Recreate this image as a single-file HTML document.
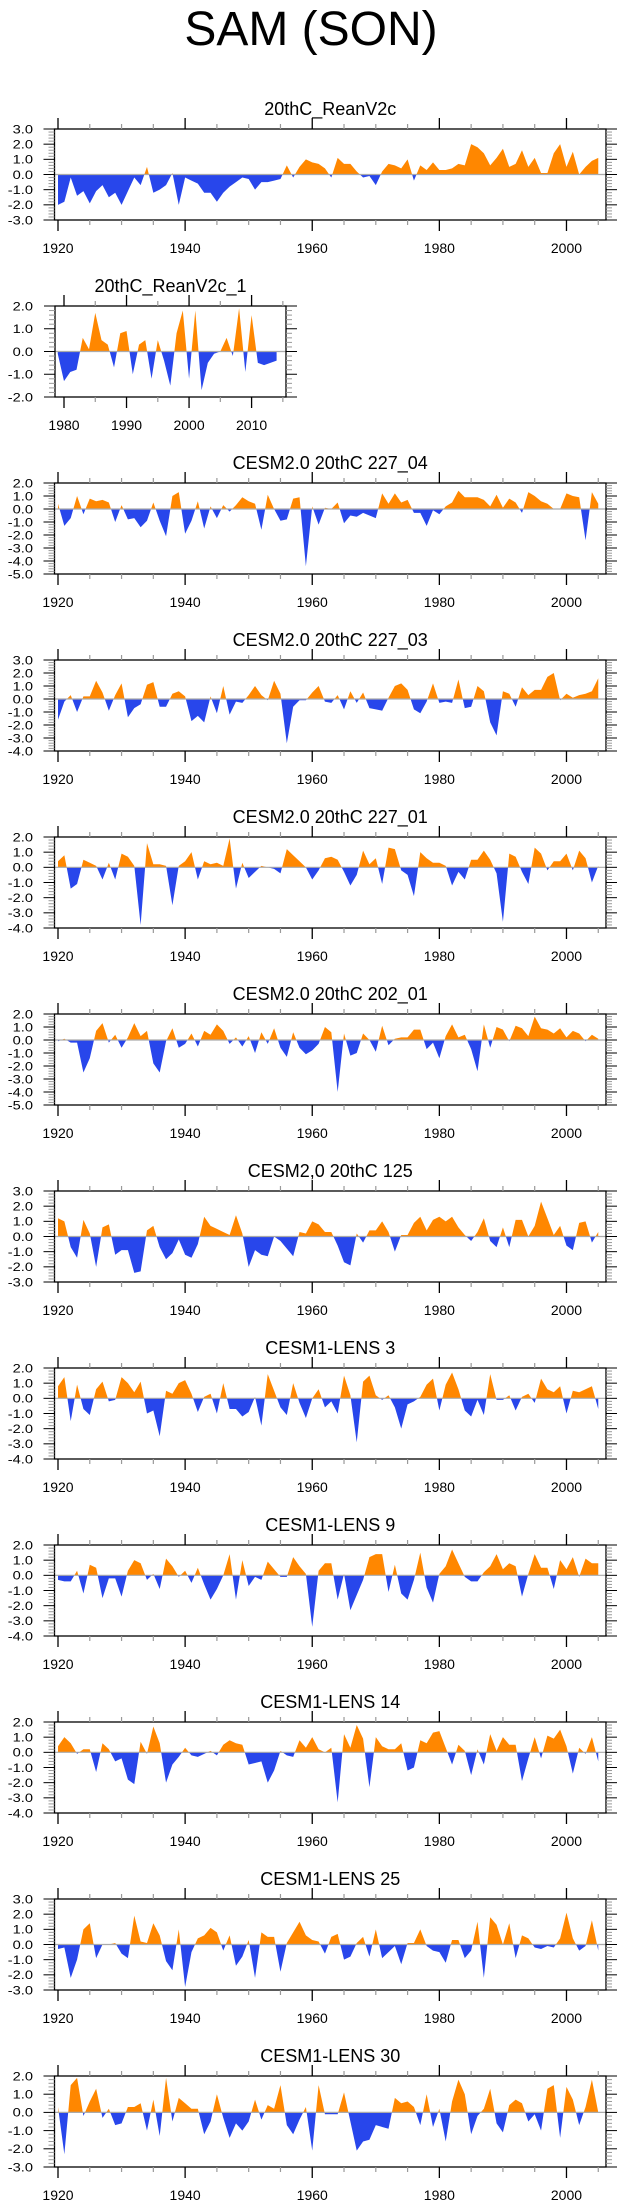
<!DOCTYPE html>
<html><head><meta charset="utf-8">
<style>
html,body{margin:0;padding:0;background:#fff;}
svg{display:block;font-family:"Liberation Sans",sans-serif;}
</style></head>
<body>
<svg id="chart" width="623" height="2209" viewBox="0 0 623 2209" xmlns="http://www.w3.org/2000/svg">
<text x="311" y="45" font-size="48" text-anchor="middle" fill="#000">SAM (SON)</text>
</svg>
<script>
const titles = ["20thC_ReanV2c","20thC_ReanV2c_1","CESM2.0 20thC 227_04","CESM2.0 20thC 227_03","CESM2.0 20thC 227_01","CESM2.0 20thC 202_01","CESM2,0 20thC 125","CESM1-LENS 3","CESM1-LENS 9","CESM1-LENS 14","CESM1-LENS 25","CESM1-LENS 30"];
const yMins = [-3,-2,-5,-4,-4,-5,-3,-4,-4,-4,-3,-3];
const yMaxs = [3,2,2,3,2,2,3,2,2,2,3,2];
const startYears = [1920,1979,1920,1920,1920,1920,1920,1920,1920,1920,1920,1920];
const xTickLabelsMain = [1920,1940,1960,1980,2000];
const xTickLabelsShort = [1980,1990,2000,2010];
const s0 = [-2.0,-1.8,-0.2,-1.4,-1.1,-1.9,-1.1,-0.7,-1.5,-1.2,-2.0,-1.1,-0.2,-0.7,0.5,-1.2,-1.0,-0.7,0.1,-2.0,-0.2,-0.4,-0.6,-1.2,-1.2,-1.8,-1.2,-0.8,-0.5,-0.2,-0.3,-1.0,-0.5,-0.5,-0.4,-0.3,0.6,-0.2,0.5,1.0,0.8,0.7,0.4,-0.2,1.1,0.7,0.7,0.2,-0.2,-0.1,-0.7,0.2,0.7,0.6,0.4,1.0,-0.4,0.6,0.3,0.8,0.3,0.3,0.4,0.7,0.6,2.0,1.8,1.4,0.6,1.1,1.7,0.5,0.7,1.6,0.5,1.1,0.1,0.1,1.4,2.0,0.5,1.5,0.0,0.5,0.9,1.1];
const s1 = [-0.1,-1.3,-0.9,-0.8,0.6,0.1,1.7,0.5,0.3,-0.7,0.8,0.9,-1.0,0.3,0.5,-1.2,0.5,-0.4,-1.5,0.8,1.8,-1.2,1.8,-1.7,-0.5,-0.1,0.0,0.6,-0.2,1.9,-0.9,1.6,-0.5,-0.6,-0.5,-0.4];
const s2 = [0.4,-1.3,-0.7,1.0,-0.4,0.8,0.6,0.7,0.5,-1.0,0.3,-0.8,-0.7,-1.4,-0.9,0.5,-0.9,-2.1,1.0,1.3,-1.9,-0.9,0.6,-1.5,0.2,-0.7,0.3,-0.2,0.3,0.9,0.6,0.4,-1.6,1.1,0.0,-0.9,-0.8,0.8,0.9,-4.4,0.2,-1.2,0.1,0.0,0.5,-1.1,-0.5,-0.6,-0.3,-0.5,-0.7,1.2,0.4,1.2,0.5,0.7,-0.3,-0.3,-1.3,-0.1,-0.4,0.2,0.5,1.4,0.9,0.9,0.9,0.7,0.2,1.1,0.1,0.8,0.5,-0.3,1.3,1.0,0.6,0.4,0.0,0.0,1.2,1.0,0.9,-2.4,1.3,0.4];
const s3 = [-1.6,-0.2,0.3,-1.0,0.2,0.2,1.4,0.5,-0.9,0.3,1.2,-1.4,-0.7,-0.4,1.1,1.3,-0.6,-0.6,0.4,0.6,0.2,-1.7,-1.3,-1.8,0.2,-1.1,1.0,-1.2,-0.2,-0.3,0.3,1.0,0.3,-0.1,1.4,0.4,-3.4,-0.6,-0.1,-0.1,0.5,1.0,-0.2,-0.3,0.3,-0.8,0.6,-0.3,0.5,-0.7,-0.8,-0.9,0.1,1.0,1.2,0.7,-0.8,-1.1,-0.2,1.2,-0.3,-0.2,-0.3,1.5,-0.7,-0.6,1.0,0.6,-1.8,-2.8,0.6,0.4,-0.6,0.9,0.3,0.7,0.7,1.7,2.0,-0.1,0.4,0.1,0.3,0.4,0.6,1.6];
const s4 = [0.4,0.8,-1.4,-1.1,0.5,0.3,0.1,-0.8,0.3,-0.8,0.9,0.7,0.1,-3.8,1.6,0.2,0.2,0.1,-2.5,0.1,0.4,1.0,-0.8,0.4,0.2,0.3,0.1,1.9,-1.4,0.3,-0.7,-0.3,0.1,0.0,-0.1,-0.4,1.2,0.8,0.4,0.0,-0.8,-0.2,0.6,0.7,0.5,-0.3,-1.2,-0.5,1.1,0.2,0.6,-1.1,1.3,1.2,-0.2,-0.5,-1.9,1.0,0.6,0.3,0.3,0.1,-1.2,-0.3,-0.8,0.5,0.5,1.1,0.5,-0.4,-3.6,0.9,0.7,-0.3,-1.1,1.3,0.9,-0.2,0.4,0.4,0.9,-0.2,1.1,0.6,-1.0,0.1];
const s5 = [-0.1,0.1,-0.2,-0.2,-2.5,-1.4,0.7,1.3,-0.2,0.4,-0.6,0.2,1.3,0.3,0.7,-1.8,-2.5,-0.1,0.9,-0.6,-0.3,0.5,-0.5,0.7,0.4,1.2,0.7,-0.3,0.2,-0.5,0.3,-1.0,0.6,-0.3,0.9,-0.6,-1.3,0.6,-0.6,-1.1,-0.8,-0.3,1.0,0.6,-4.0,0.5,-1.2,-1.0,0.5,0.0,-0.9,1.1,-0.4,0.1,0.2,0.2,0.8,0.8,-0.7,-0.2,-1.4,0.3,1.2,0.2,0.4,-0.7,-2.4,1.2,-0.6,1.0,0.8,-0.1,1.1,0.9,0.3,1.8,0.9,0.8,0.5,0.9,0.2,0.7,0.5,-0.1,0.4,0.1];
const s6 = [1.2,1.0,-0.7,-1.4,1.1,0.2,-2.0,0.6,0.8,-1.2,-0.9,-0.9,-2.4,-2.3,0.4,0.7,-0.7,-1.5,-1.1,-0.2,-1.2,-1.4,-0.5,1.3,0.7,0.5,0.3,0.1,1.4,0.2,-2.0,-0.9,-1.2,-1.3,0.0,-0.3,-0.8,-1.3,0.3,0.2,1.0,0.8,0.3,0.3,-0.6,-1.7,-1.9,0.2,-0.4,0.4,0.4,1.0,0.3,-1.0,0.1,0.1,0.9,1.3,0.4,1.1,1.3,1.0,1.3,0.6,0.1,-0.3,0.3,1.2,-0.3,-0.7,0.6,-0.7,1.1,1.1,0.0,0.7,2.3,1.2,0.1,0.7,-0.6,-0.9,0.9,1.0,-0.4,0.3];
const s7 = [0.8,1.4,-1.5,0.9,-0.7,-1.1,0.6,1.1,-0.2,-0.1,1.4,1.0,0.4,1.1,-1.0,-0.8,-2.5,0.5,0.3,1.0,1.2,0.3,-0.9,0.1,0.3,-1.0,1.0,-0.7,-0.7,-1.2,-0.9,0.1,-1.8,1.6,0.5,-0.6,-1.1,1.0,-0.3,-1.3,0.0,0.6,-0.6,-0.2,-1.0,1.5,0.2,-2.9,1.1,1.5,0.2,-0.1,0.2,-0.6,-2.0,-0.4,-0.2,0.1,0.9,1.3,-0.8,0.9,1.7,0.6,-0.8,-1.2,-0.1,-1.1,1.6,-0.1,-0.1,0.2,-0.8,0.1,0.3,-0.3,1.3,0.6,0.4,0.8,-1.0,0.5,0.4,0.6,0.8,-0.7];
const s8 = [-0.3,-0.4,-0.4,0.3,-1.2,0.7,0.5,-1.5,-0.2,-0.2,-1.4,0.3,1.0,0.8,-0.3,0.1,-0.9,1.1,0.6,-0.1,0.3,-0.5,0.5,-0.6,-1.6,-0.9,0.0,1.4,-1.6,1.0,-0.7,-0.1,-0.3,0.9,0.4,-0.1,-0.1,1.2,0.6,0.1,-3.4,0.3,0.8,0.8,-1.6,0.1,-2.3,-1.3,-0.3,1.2,1.4,1.4,-1.1,0.7,-1.2,-1.6,-0.3,1.5,-0.8,-1.8,0.1,0.6,1.7,0.8,-0.1,-0.4,-0.4,0.2,0.6,1.4,0.4,0.8,0.6,-1.4,0.1,1.4,0.5,0.5,-0.9,1.0,0.4,1.2,-0.1,1.1,0.8,0.8];
const s9 = [0.4,1.0,0.6,-0.1,0.2,0.2,-1.3,0.6,0.2,-0.6,-0.4,-1.8,-2.1,0.7,-0.1,1.7,0.6,-2.0,-0.8,-0.3,0.3,-0.2,-0.3,-0.1,0.1,-0.2,0.5,0.8,0.6,0.5,-0.8,-0.7,-0.6,-2.0,-1.2,0.1,-0.2,-0.3,0.8,0.3,1.0,0.2,0.0,0.3,-3.3,1.2,0.3,1.8,0.9,-2.3,1.0,0.4,0.2,0.2,0.6,-1.2,-1.0,0.8,0.6,1.3,1.4,0.3,-0.8,0.5,0.1,-1.5,0.2,-0.8,1.2,0.1,1.0,0.5,0.5,-1.9,-0.4,1.0,-0.4,1.1,0.9,1.5,0.4,-1.4,0.3,-0.1,1.0,-0.6];
const s10 = [-0.3,-0.2,-2.2,-1.0,1.0,1.4,-0.9,0.0,0.0,0.1,-0.6,-0.9,1.9,0.2,0.1,1.4,0.6,-1.1,-1.7,1.0,-2.8,-0.5,0.4,0.6,1.1,0.8,-0.4,0.6,-1.4,-0.8,0.3,-2.2,0.8,0.5,0.5,-1.8,0.1,0.8,1.5,0.6,0.3,0.2,-0.6,0.5,0.7,-1.0,-0.8,0.1,0.5,-0.8,1.0,-0.9,-0.5,-0.1,-1.3,0.1,0.1,1.0,-0.1,-0.4,-0.5,-1.2,0.3,0.3,-0.9,-0.4,1.5,-2.2,1.8,1.3,0.0,1.4,-0.9,0.6,0.4,-0.2,-0.3,-0.1,-0.2,0.4,2.1,0.4,-0.4,-0.1,1.6,-0.4];
const s11 = [0.3,-2.3,1.5,1.9,-0.2,0.6,1.3,-0.3,0.2,-0.7,-0.6,0.3,0.3,0.5,-1.0,0.7,-1.3,1.9,-0.5,0.8,0.5,0.2,0.2,-1.2,-0.5,1.0,-0.3,-1.4,-0.6,-1.0,-0.5,0.7,-0.4,0.4,0.2,1.5,-0.7,-1.2,-0.4,0.3,-2.1,1.5,-0.1,-0.1,-0.1,1.1,-0.5,-2.1,-1.6,-1.5,-0.7,-0.8,-0.9,0.8,0.5,0.6,0.3,-0.7,1.0,-0.8,0.2,-1.6,0.6,1.8,1.0,-1.2,-0.2,0.2,1.3,-0.6,-1.1,0.4,0.7,0.5,-0.5,-0.1,-1.0,1.3,1.5,-1.4,1.4,0.7,-0.7,0.3,1.8,0.0];
const series = [s0,s1,s2,s3,s4,s5,s6,s7,s8,s9,s10,s11];

const NS = "http://www.w3.org/2000/svg";
const svg = document.getElementById('chart');
const ORANGE = "#ff8700", BLUE = "#2846eb";
function mk(tag, attrs, parent) {
  const e = document.createElementNS(NS, tag);
  for (const k in attrs) e.setAttribute(k, attrs[k]);
  (parent || svg).appendChild(e);
  return e;
}
const defs = mk('defs', {});

for (let p = 0; p < series.length; p++) {
  const data = series[p];
  const short = p === 1;
  const top = 129 + 177 * p, h = 91, bottom = top + h;
  const L = short ? 55 : 54.5;
  const R = short ? 286 : 606;
  const x0 = short ? 64 : 58;
  const yr0 = short ? 1980 : 1920;
  const pxYr = short ? 6.253 : 6.356;
  const xs = yr => x0 + (yr - yr0) * pxYr;
  const ymin = yMins[p], ymax = yMaxs[p];
  const ys = v => top + (ymax - v) / (ymax - ymin) * h;

  const g = mk('g', {});
  
  

  const title = mk('text', {x: (L + R) / 2, y: top - 14, 'font-size': 18, 'text-anchor': 'middle', fill: '#000'}, g);
  title.textContent = titles[p];
  
  

  // area
  const y0 = ys(0);
  let pts = xs(startYears[p]) + ',' + y0 + ' ';
  data.forEach((v, i) => { pts += xs(startYears[p] + i) + ',' + ys(v) + ' '; });
  pts += xs(startYears[p] + data.length - 1) + ',' + y0;
  const cu = mk('clipPath', {id: 'cu' + p}, defs);
  mk('rect', {x: L, y: top, width: R - L, height: y0 - top}, cu);
  const cd = mk('clipPath', {id: 'cd' + p}, defs);
  mk('rect', {x: L, y: y0, width: R - L, height: bottom - y0}, cd);
  const pos = mk('polygon', {points: pts, fill: ORANGE, 'clip-path': 'url(#cu' + p + ')'}, g);
  
  
  const neg = mk('polygon', {points: pts, fill: BLUE, 'clip-path': 'url(#cd' + p + ')'}, g);
  
  
  const zl = mk('line', {x1: L, x2: R, y1: y0, y2: y0, stroke: '#aaa', 'stroke-width': 1.2}, g);
  
  

  // frame
  const fr = mk('rect', {x: L, y: top, width: R - L, height: h, fill: 'none', stroke: '#000', 'stroke-width': 1.3}, g);
  
  

  // y ticks
  const nMinor = Math.round((ymax - ymin) / 0.2);
  for (let k = 0; k <= nMinor; k++) {
    const v = ymin + k * 0.2;
    const major = Math.abs(v - Math.round(v)) < 1e-6;
    const y = ys(v);
    const len = major ? 11 : 6;
    const col = major ? '#000' : '#999';
    mk('line', {x1: L - len, x2: L, y1: y, y2: y, stroke: col, 'stroke-width': 1}, g);
    mk('line', {x1: R, x2: R + len, y1: y, y2: y, stroke: col, 'stroke-width': 1}, g);
    if (major) {
      const t = mk('text', {x: 0, y: 0, 'font-size': 12, 'text-anchor': 'end', fill: '#000',
        transform: 'translate(33,' + (y + 4.3) + ') scale(1.22,1)'}, g);
      t.textContent = Math.round(v).toFixed(1);
      
      
    }
  }
  // x ticks
  const majors = short ? xTickLabelsShort : xTickLabelsMain;
  const xa = short ? 1980 : 1920, xb = short ? 2015 : 2005;
  for (let yr = xa; yr <= xb; yr += 5) {
    const major = majors.indexOf(yr) >= 0;
    const x = xs(yr);
    const len = major ? 11 : 5;
    const col = major ? '#000' : '#999';
    mk('line', {x1: x, x2: x, y1: top - len, y2: top, stroke: col, 'stroke-width': major ? 1.3 : 1.2}, g);
    mk('line', {x1: x, x2: x, y1: bottom, y2: bottom + len, stroke: col, 'stroke-width': major ? 1.3 : 1.2}, g);
  }
  majors.forEach(yr => {
    const t = mk('text', {x: xs(yr), y: bottom + 33, 'font-size': 14, 'text-anchor': 'middle', fill: '#000'}, g);
    t.textContent = yr;
    
    
  });
}
</script>
</body></html>
